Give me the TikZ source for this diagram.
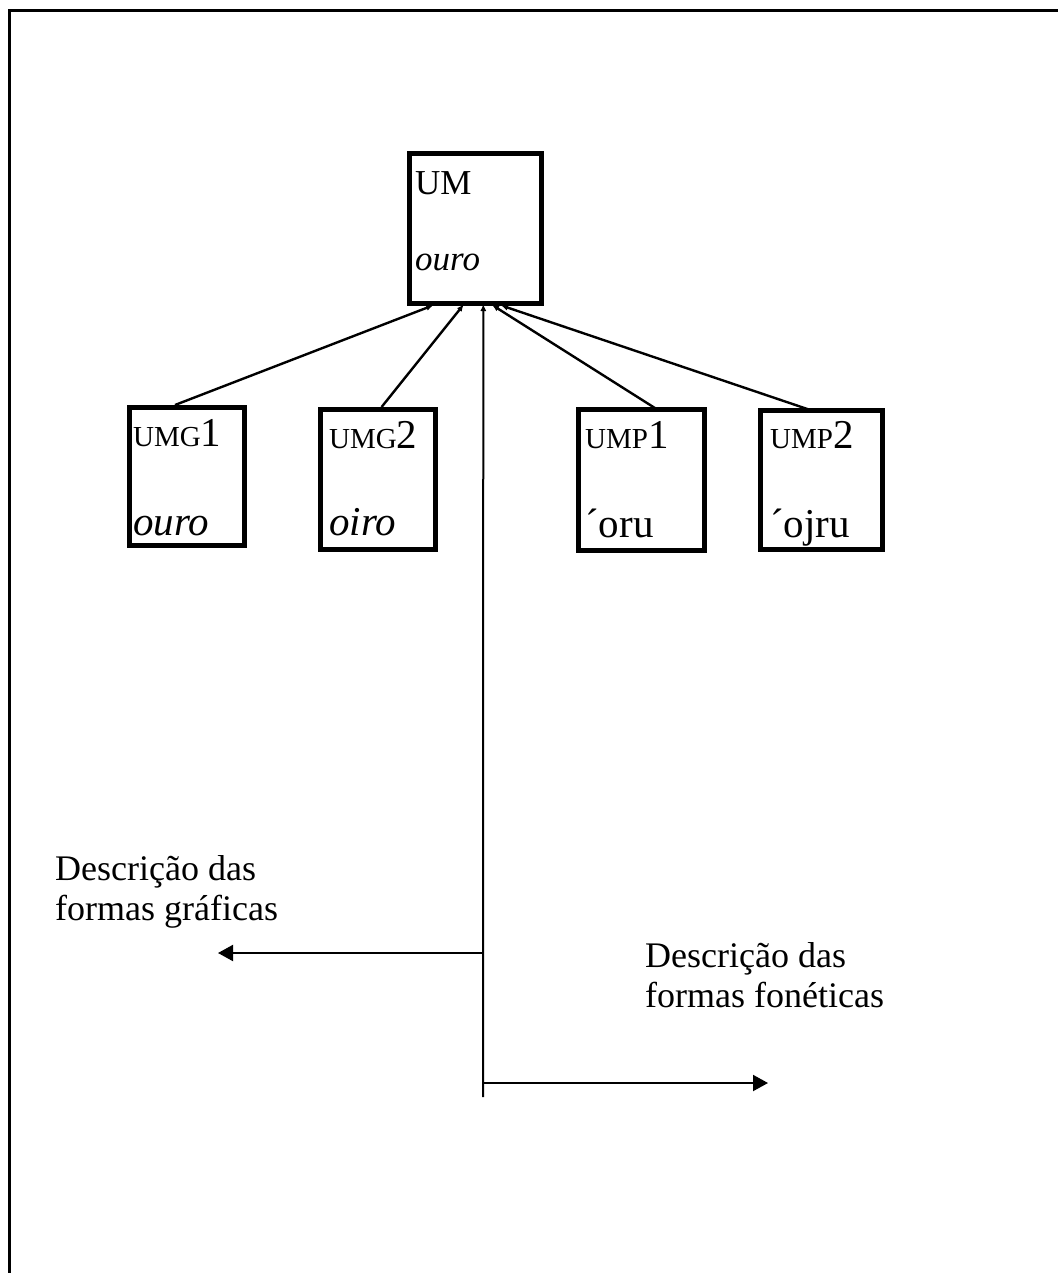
\documentclass[tikz,border=0pt]{standalone}
\usepackage{fontspec}
\setmainfont{Liberation Serif}
\usetikzlibrary{arrows.meta,calc,positioning}
\tikzset{>={Latex[length=7pt,width=6pt]}}
\tikzset{
	box/.style 2 args={draw, line width=5pt, inner sep=0pt, minimum width=#1, minimum height=#2},
	word/.style={anchor=base west, inner sep=0pt, font=\fontsize{41}{41}\selectfont},
	caption/.style={anchor=base west, inner sep=0pt, align=left, font=\fontsize{36}{40}\selectfont},
	link/.style={line width=2.4pt, ->, shorten >=-2pt},
	axis/.style={line width=2pt, ->, shorten >=-2pt},
	outlink/.style={line width=2pt, -{Triangle[length=15pt,width=16pt]}},
	frame/.style={line width=3pt}
}

\begin{document}
\begin{tikzpicture}[x=1pt, y=-1pt]
	\useasboundingbox (0,0) rectangle (1058,1273);
	\draw[frame] (9,1273) -- (9,11) -- (1058,11);

	% Defining boxes
	\node[box={132pt}{150pt}] (um) at (475.5,228.5) {};  %UM
	\node[box={115pt}{138pt}] (umg1) at (187,476.5) {};  %UMG1
	\node[box={115pt}{140pt}] (umg2) at (378,479.5) {};  %UMG2
	\node[box={126pt}{141pt}] (ump1) at (641.5,480) {};  %UMP1
	\node[box={122pt}{139pt}] (ump2) at (821.5,480) {};  %UMP2

	% Box texts
	\node[word, font=\fontsize{35}{35}\selectfont] (umtop) at (415,195) {UM};
	\node[word, font=\fontsize{35}{35}\selectfont\itshape] (umbot) at (415,270) {ouro};
	\node[word] (umg1top) at (133,446) {{\fontsize{29}{29}\selectfont UMG}1};
	\node[word] (umg1bot) at (133,535) {\itshape ouro};
	\node[word] (umg2top) at (329,448) {{\fontsize{29}{29}\selectfont UMG}2};
	\node[word] (umg2bot) at (329,535) {\itshape oiro};
	\node[word] (ump1top) at (585,448) {{\fontsize{29}{29}\selectfont UMP}1};
	\node[word] (ump1bot) at (585,537) {´oru};
	\node[word] (ump2top) at (770,448) {{\fontsize{29}{29}\selectfont UMP}2};
	\node[word] (ump2bot) at (770,537) {´ojru};

	% Tips on the UM box
	\coordinate (t1) at ($(um.south west)!0.178!(um.south east)$);
	\coordinate (t2) at ($(um.south west)!0.405!(um.south east)$);
	\coordinate (t3) at ($(um.south west)!0.557!(um.south east)$);
	\coordinate (t4) at ($(um.south west)!0.633!(um.south east)$);
	\coordinate (t5) at ($(um.south west)!0.70!(um.south east)$);

	% Drawing connectors
	\draw[link] ($(umg1.north west)!0.40!(umg1.north east)$) -- (t1);
	\draw[link] ($(umg2.north west)!0.53!(umg2.north east)$) -- (t2);
	\draw[link, shorten <=-4pt] ($(ump1.north west)!0.59!(ump1.north east)$) -- (t4);
	\draw[link, shorten <=-4pt] ($(ump2.north west)!0.365!(ump2.north east)$) -- (t5);

	% Axis and the two descriptions
	\coordinate (bot) at (483,1097);
	\coordinate (vl) at (483,953);
	\coordinate (vr) at (483,1083);
	\coordinate (el) at (218,953);
	\coordinate (er) at (768,1083);
	\draw[axis] (bot) -- (t3);
	\draw[outlink] (vl) -- (el);
	\draw[outlink] (vr) -- (er);

	\node[caption] (grafica) at (55,920) {Descrição das\\formas gráficas};
	\node[caption] (fonetica) at (645,1007) {Descrição das\\formas fonéticas};
\end{tikzpicture}
\end{document}
